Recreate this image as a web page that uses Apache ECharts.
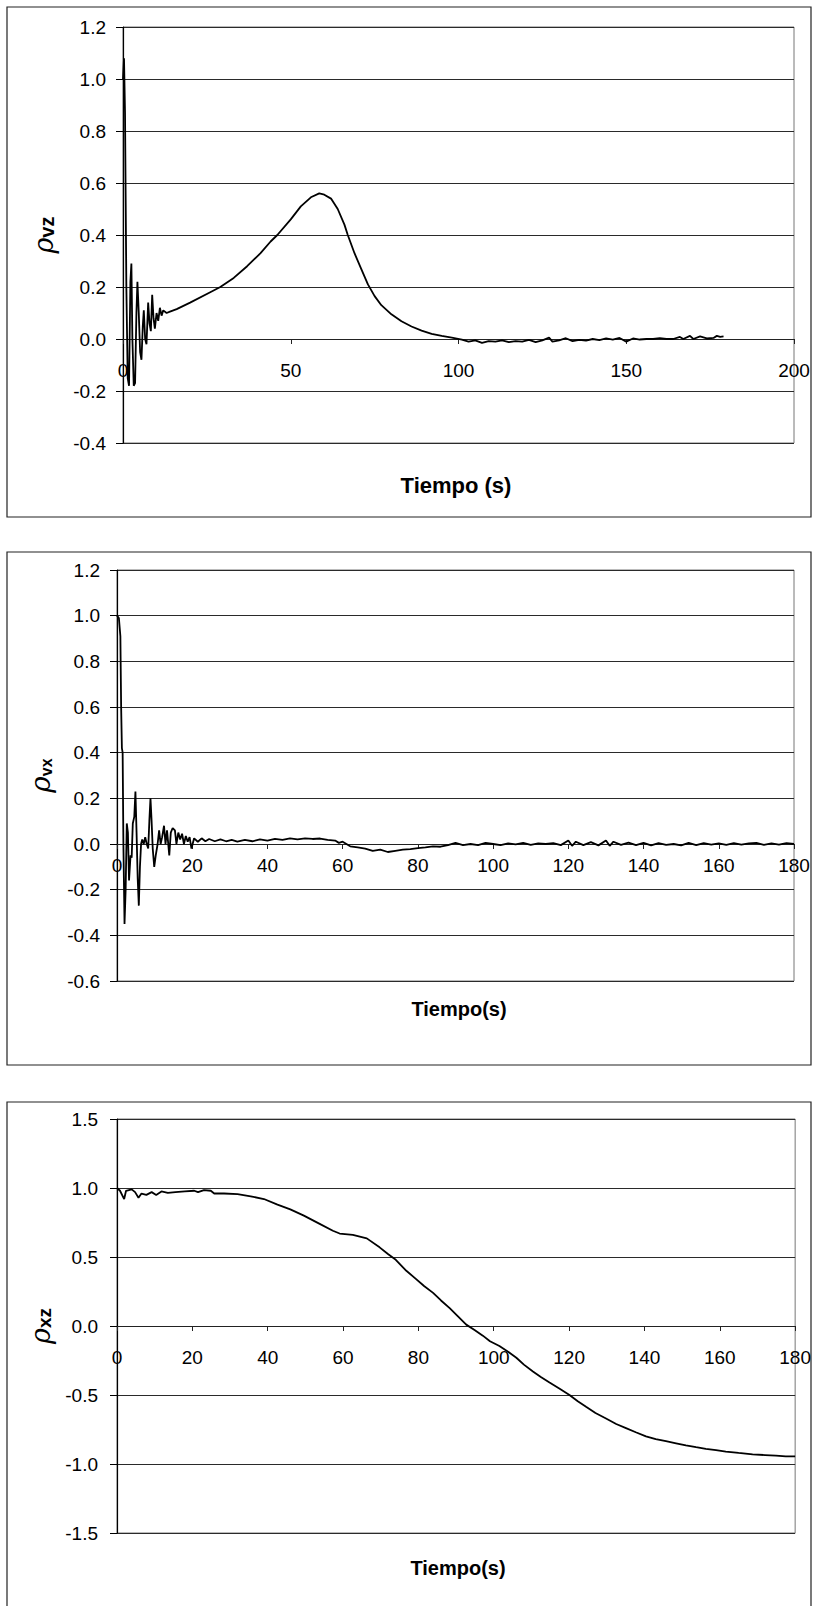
<!DOCTYPE html>
<html>
<head>
<meta charset="utf-8">
<title>Correlaciones</title>
<script src="https://cdn.jsdelivr.net/npm/echarts@6.0.0/dist/echarts.min.js"></script>
<style>
html,body{margin:0;padding:0;background:#fff;}
#main{width:814px;height:1606px;}
</style>
</head>
<body>
<div id="main"></div>
<script>
// grafico 1: rho vz
var tVz = [0,0.3,0.6,1.0,1.4,1.8,2.2,2.5,2.8,3.2,3.6,4.0,4.3,4.7,5.1,5.5,5.9,6.2,6.6,7.0,7.5,7.9,8.3,8.7,9.1,9.5,10.0,10.5,11.0,11.5,12.0,13.0,14.0,
	16,20,26,29,33,37,41,44,46,50,53,56,58.5,60,62,64,66,67,69,71,73,75,77,80,83,86,89,92,95,98,101,
	103,105,107,109,111,113,115,117,119,121,123,125,127,128,130,132,134,136,138,140,142,144,146,148,150,152,154,156,158,160,162,164,166,167,169,170,172,174,176,177,178,179];
var rhoVz = [1.0,1.08,0.87,0.2,-0.15,-0.18,0.22,0.29,0.0,-0.18,-0.17,0.1,0.22,0.1,-0.05,-0.08,0.05,0.11,0.0,-0.02,0.14,0.06,0.03,0.17,0.08,0.04,0.1,0.07,0.12,0.09,0.11,0.10,0.105,
	0.115,0.14,0.18,0.2,0.235,0.28,0.33,0.375,0.40,0.46,0.51,0.545,0.56,0.555,0.54,0.50,0.44,0.40,0.33,0.27,0.21,0.165,0.13,0.095,0.068,0.048,0.032,0.02,0.012,0.005,-0.002,
	-0.01,-0.005,-0.015,-0.008,-0.01,-0.005,-0.012,-0.008,-0.01,-0.003,-0.012,-0.005,0.005,-0.01,-0.005,0.003,-0.008,-0.003,-0.006,0.0,-0.004,0.002,-0.002,0.004,-0.01,0.002,-0.002,0.0,0.0,0.003,0.0,0.0,0.008,0.0,0.012,0.0,0.01,0.002,0.004,0.012,0.008,0.01];
var xTicksVz = [0, 200, 50];
var yTicksVz = [-0.4, 1.2, 0.2];

// grafico 2: rho vx
var tVx = [0,0.5,0.9,1.1,1.3,1.5,1.7,2.0,2.3,2.6,2.9,3.2,3.6,3.9,4.2,4.6,4.9,5.2,5.5,5.8,6.1,6.4,6.7,7.1,7.5,7.9,8.3,8.6,8.9,9.2,9.5,9.9,10.3,10.8,11.2,11.6,12.0,12.5,12.9,13.3,13.9,14.3,14.8,15.4,15.8,16.3,16.8,17.3,17.8,18.3,18.8,19.3,19.8,
	20.5,21.5,22.5,23.5,24.5,26,27.5,29,30.5,32,34,36,38,40,42,44,46,48,50,52,54,56,58,59,60,61,62,64,66,68,70,72,74,76,78,80,82,84,86,88,90,92,94,96,98,100,
	102,104,106,108,110,112,114,116,118,120,121,122,124,126,128,130,131,132,134,136,138,140,142,144,146,148,150,152,154,156,158,160,162,164,166,168,170,172,174,176,178,180];
var rhoVx = [1.0,0.99,0.91,0.6,0.42,0.40,0.0,-0.35,-0.2,0.09,0.05,-0.16,-0.05,-0.06,0.09,0.12,0.23,0.05,-0.15,-0.27,-0.1,0.0,0.02,0.0,0.03,0.0,-0.02,0.1,0.2,0.1,-0.02,-0.1,-0.05,0.0,0.06,0.0,0.03,0.08,0.0,0.06,-0.05,0.05,0.07,0.06,0.0,0.05,0.02,0.045,0.0,0.035,0.01,0.03,-0.02,
	0.025,0.01,0.025,0.012,0.022,0.012,0.02,0.012,0.018,0.01,0.018,0.012,0.02,0.015,0.022,0.018,0.025,0.02,0.025,0.022,0.024,0.018,0.015,0.005,0.01,0.0,-0.01,-0.015,-0.02,-0.03,-0.025,-0.035,-0.03,-0.025,-0.022,-0.018,-0.015,-0.01,-0.012,-0.005,0.005,-0.005,0.0,-0.005,0.005,0.0,
	-0.005,0.003,-0.002,0.005,-0.004,0.003,0.0,0.004,-0.005,0.015,-0.008,0.01,-0.005,0.008,-0.006,0.015,-0.008,0.01,-0.004,0.006,-0.005,0.005,-0.006,0.004,-0.004,0.0,-0.006,0.005,-0.005,0.004,-0.003,0.003,-0.004,0.004,-0.003,0.003,0.005,-0.004,0.003,-0.003,0.004,0.0];
var xTicksVx = [0, 180, 20];
var yTicksVx = [-0.6, 1.2, 0.2];

// grafico 3: rho xz
var tXz = [0,0.8,1.9,2.4,3.9,4.8,5.7,6.5,7.8,9.2,10.4,11.8,13.5,15.5,18,20.5,21.5,23.1,24.9,25.8,28.4,32,35.5,39,42.6,46,49.6,53.8,57.3,59.1,62.6,66.3,69.7,72,74,76.8,79.4,81.5,83.9,86,88.3,90.5,92.7,95,97.1,99,101.5,104,106,108,110.4,112.5,114.8,117.5,120.1,122.3,124.5,127,129.8,132.5,135.1,137.7,140.4,143,145.7,148.4,151,153.7,156.3,159,161.6,165,168.7,172,174.9,177.5,180];
var rhoXz = [1.0,0.98,0.92,0.98,0.99,0.97,0.93,0.96,0.95,0.97,0.95,0.975,0.965,0.97,0.975,0.98,0.97,0.985,0.98,0.96,0.96,0.955,0.94,0.92,0.88,0.845,0.80,0.74,0.69,0.67,0.66,0.635,0.57,0.52,0.48,0.40,0.34,0.29,0.24,0.185,0.13,0.07,0.01,-0.03,-0.07,-0.11,-0.145,-0.19,-0.23,-0.28,-0.33,-0.37,-0.41,-0.455,-0.50,-0.545,-0.585,-0.63,-0.67,-0.71,-0.74,-0.77,-0.80,-0.82,-0.835,-0.85,-0.865,-0.878,-0.89,-0.90,-0.91,-0.92,-0.93,-0.935,-0.94,-0.945,-0.945];
var xTicksXz = [0, 180, 20];
var yTicksXz = [-1.5, 1.5, 0.5];

var FONT = 'Liberation Sans';

function pairs(ts, vs) {
	var out = [];
	for (var i = 0; i < ts.length; i++) {
		out.push([ts[i], vs[i]]);
	}
	return out;
}

// eje x dibujado a la altura de y=0 (offset negativo desde el borde inferior)
function makeX(idx, ticks, margin, off) {
	return {
		type: 'value', gridIndex: idx, position: 'bottom', offset: off,
		min: ticks[0], max: ticks[1], interval: ticks[2],
		axisLine: { onZero: false, lineStyle: { color: '#222', width: 1 } },
		axisTick: { show: true, length: 5, lineStyle: { color: '#222' } },
		axisLabel: { color: '#000', fontSize: 19, fontFamily: FONT, margin: margin, showMinLabel: true, showMaxLabel: true },
		splitLine: { show: false }
	};
}

function makeY(idx, ticks, sub, margin, gap, rhoSize, subSize) {
	return {
		type: 'value', gridIndex: idx,
		min: ticks[0], max: ticks[1], interval: ticks[2],
		name: '{a|ρ}{b|' + sub + '}',
		nameLocation: 'middle', nameRotate: 90, nameGap: gap,
		nameTextStyle: {
			rich: {
				a: { fontSize: rhoSize, fontFamily: 'DejaVu Serif', fontStyle: 'italic', color: '#000' },
				b: { fontSize: subSize, fontWeight: 'bold', fontFamily: FONT, color: '#000', verticalAlign: 'bottom' }
			}
		},
		axisLine: { show: true, lineStyle: { color: '#000', width: 1.2 } },
		axisTick: { show: true, length: 7, lineStyle: { color: '#000' } },
		axisLabel: {
			color: '#000', fontSize: 19, fontFamily: FONT, margin: margin,
			formatter: function (v) { return v.toFixed(1); }
		},
		splitLine: { show: true, lineStyle: { color: '#2a2a2a', width: 1 } }
	};
}

function makeLine(idx, data) {
	return {
		type: 'line', xAxisIndex: idx, yAxisIndex: idx,
		data: data, showSymbol: false, symbol: 'none', smooth: false,
		lineStyle: { color: '#000', width: 1.8 }, animation: false
	};
}

function frame(y, h) {
	return { type: 'rect', shape: { x: 7, y: y, width: 804, height: h }, style: { fill: 'none', stroke: '#222', lineWidth: 1.2 } };
}

function title(txt, x, y, size) {
	return { type: 'text', x: x, y: y, style: { text: txt, fill: '#000', font: 'bold ' + size + 'px ' + FONT, align: 'center', verticalAlign: 'middle' } };
}

var myChart = echarts.init(document.getElementById('main'), null, { renderer: 'svg' });

var gridStyle = { show: true, borderColor: '#777', borderWidth: 1, backgroundColor: 'transparent' };
var option = {
	backgroundColor: '#fff',
	animation: false,
	grid: [
		Object.assign({ left: 123, top: 27, width: 671, height: 416 }, gridStyle),
		Object.assign({ left: 117, top: 570, width: 677, height: 411 }, gridStyle),
		Object.assign({ left: 117, top: 1119, width: 679, height: 414 }, gridStyle)
	],
	xAxis: [
		makeX(0, xTicksVz, 22, -104),
		makeX(1, xTicksVx, 12, -137),
		makeX(2, xTicksXz, 22, -207)
	],
	yAxis: [
		makeY(0, yTicksVz, 'vz', 17, 66, 27, 20),
		makeY(1, yTicksVx, 'vx', 17, 63, 28, 16),
		makeY(2, yTicksXz, 'xz', 19, 63, 27, 19)
	],
	series: [
		makeLine(0, pairs(tVz, rhoVz)),
		makeLine(1, pairs(tVx, rhoVx)),
		makeLine(2, pairs(tXz, rhoXz))
	],
	graphic: [
		frame(7, 510),
		frame(552, 513),
		frame(1102, 520),
		title('Tiempo (s)', 456, 485, 22),
		title('Tiempo(s)', 459, 1009, 20),
		title('Tiempo(s)', 458, 1568, 20)
	]
};
myChart.setOption(option);
</script>
</body>
</html>
